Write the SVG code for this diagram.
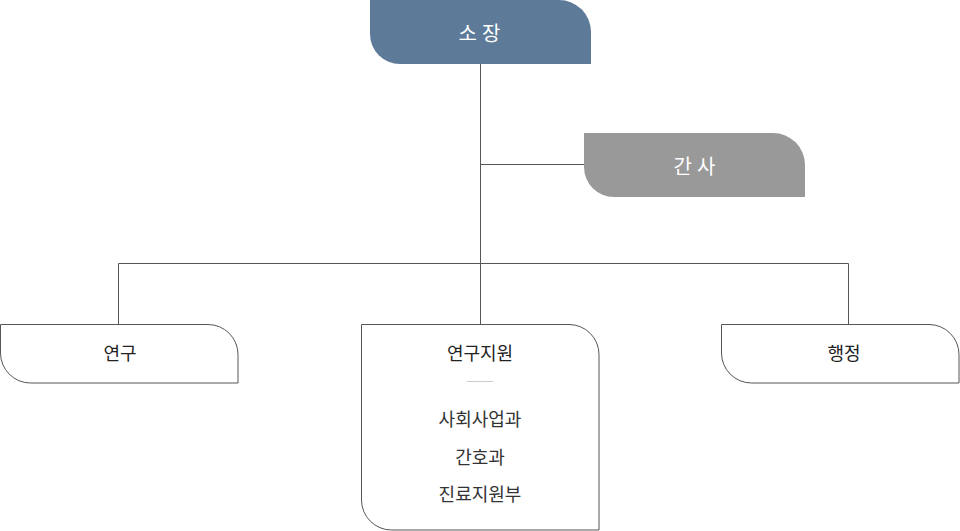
<svg xmlns="http://www.w3.org/2000/svg" width="960" height="531" viewBox="0 0 960 531">
<style>
text{font-family:"Noto Sans CJK KR","Noto Sans",sans-serif;text-anchor:middle;dominant-baseline:central}
.head{fill:#fff;font-size:20px;letter-spacing:5px}
.lbl{fill:#222;font-size:18px}
.sub{fill:#333;font-size:18px}
.box{fill:#fff;stroke:#555;stroke-width:1}
.con{stroke:#555;stroke-width:1;fill:none}
</style>
<rect width="960" height="531" fill="#fff"/>
<g id="connectors">
<path class="con" d="M480.5 64V324M480.5 164.5H584M118.5 324V263.5H848.5V324"/>
</g>
<g id="n-sojang">
<path d="M370 0H559A32 32 0 0 1 591 32V64H400A30 30 0 0 1 370 34Z" fill="#5d7b99"/>
<text class="head" x="482" y="32">소장</text>
</g>
<g id="n-gansa">
<path d="M584 133H773A32 32 0 0 1 805 165V197H614A30 30 0 0 1 584 167Z" fill="#999"/>
<text class="head" x="697" y="165">간사</text>
</g>
<g id="n-yeongu">
<path class="box" d="M0.5 324.5H208A30 30 0 0 1 238 354.5V383H30.5A30 30 0 0 1 0.5 353Z"/>
<text class="lbl" x="120" y="352">연구</text>
</g>
<g id="n-support">
<path class="box" d="M361.5 324.5H569A30 30 0 0 1 599 354.5V530H391.5A30 30 0 0 1 361.5 500Z"/>
<text class="lbl" x="480" y="352">연구지원</text>
<line x1="467" y1="381.5" x2="493" y2="381.5" stroke="#ccc" stroke-width="1"/>
<text class="sub" x="480" y="418">사회사업과</text>
<text class="sub" x="480" y="456">간호과</text>
<text class="sub" x="480" y="493">진료지원부</text>
</g>
<g id="n-haengjeong">
<path class="box" d="M721.5 324.5H929A30 30 0 0 1 959 354.5V383H751.5A30 30 0 0 1 721.5 353Z"/>
<text class="lbl" x="844" y="352">행정</text>
</g>
</svg>
